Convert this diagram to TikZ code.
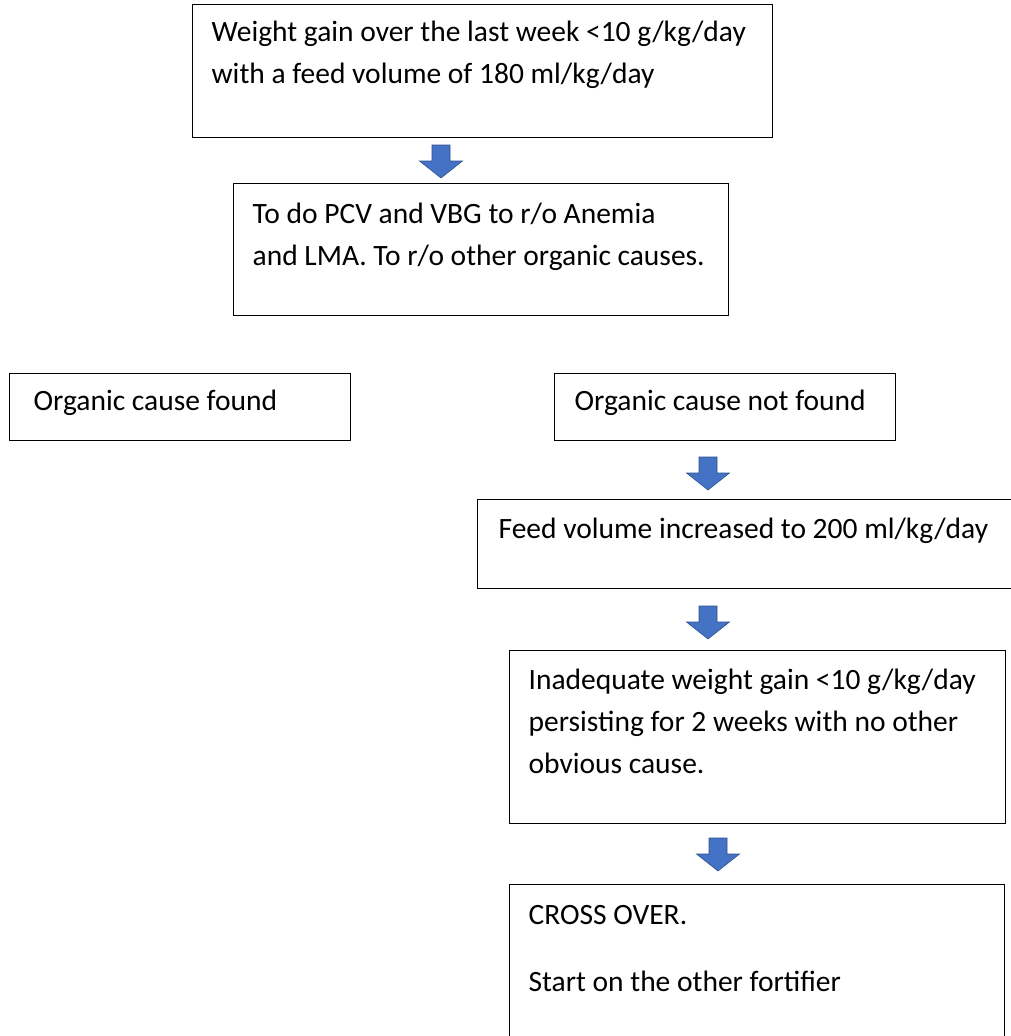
\documentclass[tikz,border=0pt]{standalone}
\usepackage{fontspec}
\setmainfont{Carlito}
\definecolor{arrowblue}{HTML}{4472C4}
\definecolor{arrowedge}{HTML}{2F528F}
% box text: width, height, left pad, first baseline, text
\newcommand{\celltext}[5]{\parbox[t][#2pt][t]{#1pt}{\raggedright\leftskip=#3pt\rule{0pt}{#4pt}#5}}
\tikzset{
  box/.style={draw, line width=1.3pt, anchor=north west, inner sep=0pt,
    font=\fontsize{29.5}{42}\selectfont},
  blockarrow/.style={fill=arrowblue, draw=arrowedge, line width=0.6pt, line join=miter}
}
\begin{document}
\begin{tikzpicture}[x=1pt, y=-1pt]
    \useasboundingbox (0,0) rectangle (1011,1036);
    \clip (0,0) rectangle (1011,1036);
    \fill[white] (0,0) rectangle (1011,1036);
    \node[box] (gain) at (192,4) {\celltext{580}{133}{19}{37}{Weight gain over the last week <10 g/kg/day\\with a feed volume of 180 ml/kg/day}};
    \node[box] (tests) at (233,183) {\celltext{495}{132}{19}{40}{To do PCV and VBG to r/o Anemia\\and LMA. To r/o other organic causes.}};
    \node[box] (found) at (9,373) {\celltext{341}{67}{24}{37}{Organic cause found}};
    \node[box] (notfound) at (554,373) {\celltext{341}{67}{20}{37}{Organic cause not found}};
    \node[box] (feed) at (477,499) {\celltext{545}{89}{21}{39}{Feed volume increased to 200 ml/kg/day}};
    \node[box] (poor) at (509,650) {\celltext{496}{173}{19}{39}{Inadequate weight gain <10 g/kg/day\\persisting for 2 weeks with no other\\obvious cause.}};
    \node[box] (cross) at (509,884) {\celltext{495}{165}{19}{40}{CROSS OVER.\\[25pt]Start on the other fortifier}};
    % block arrows between the boxes
    \foreach \x/\y in {441/145, 708/457, 708/606, 718/838}
        \draw[blockarrow] (\x-9,\y) -- ++(18,0) -- ++(0,16) -- ++(12.5,0) -- ++(-21.5,17) -- ++(-21.5,-17) -- ++(12.5,0) -- cycle;
\end{tikzpicture}
\end{document}
